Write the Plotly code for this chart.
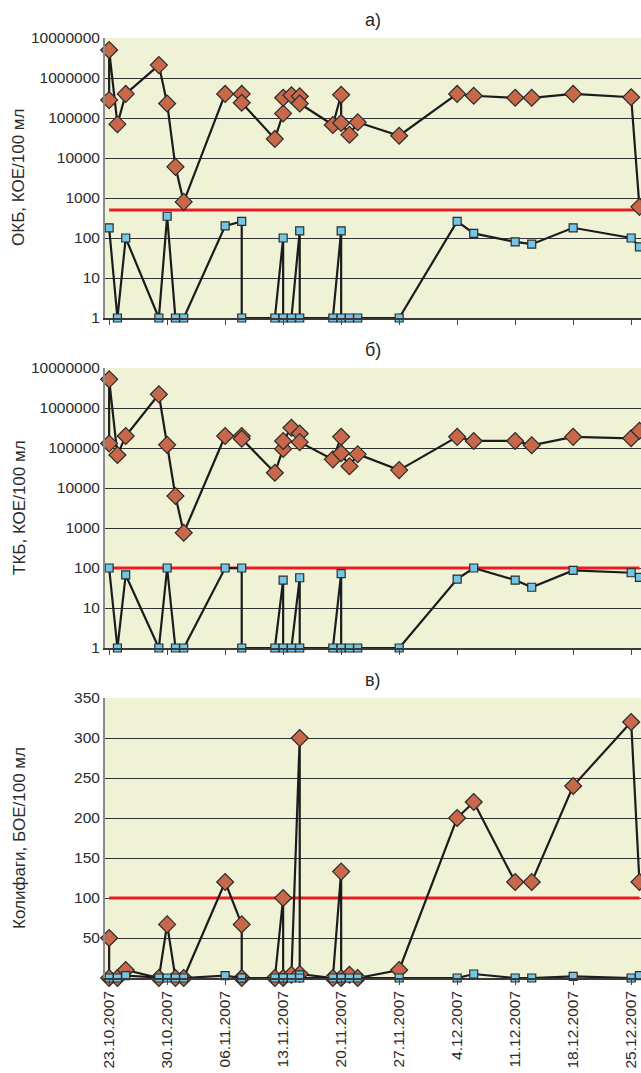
import plotly.graph_objects as go

# ---------------- data ----------------
dates_diamond = ["2007-10-23", "2007-10-23", "2007-10-24", "2007-10-25", "2007-10-29", "2007-10-30",
                 "2007-10-31", "2007-11-01", "2007-11-06", "2007-11-08", "2007-11-08", "2007-11-12",
                 "2007-11-13", "2007-11-13", "2007-11-14", "2007-11-15", "2007-11-15", "2007-11-19",
                 "2007-11-20", "2007-11-20", "2007-11-21", "2007-11-22", "2007-11-27", "2007-12-04",
                 "2007-12-06", "2007-12-11", "2007-12-13", "2007-12-18", "2007-12-25", "2007-12-26"]
dates_square = ["2007-10-23", "2007-10-24", "2007-10-25", "2007-10-29", "2007-10-30", "2007-10-31",
                "2007-11-01", "2007-11-06", "2007-11-08", "2007-11-08", "2007-11-12", "2007-11-13",
                "2007-11-13", "2007-11-14", "2007-11-15", "2007-11-15", "2007-11-19", "2007-11-20",
                "2007-11-20", "2007-11-21", "2007-11-22", "2007-11-27", "2007-12-04", "2007-12-06",
                "2007-12-11", "2007-12-13", "2007-12-18", "2007-12-25", "2007-12-26"]

okb_diamond = [280000, 5000000, 70000, 400000, 2100000, 230000, 6000, 800, 400000, 400000, 240000,
               30000, 130000, 320000, 370000, 350000, 230000, 67000, 380000, 75000, 38000, 78000,
               36000, 400000, 360000, 320000, 320000, 400000, 330000, 600]
okb_square = [180, 1, 100, 1, 350, 1, 1, 200, 260, 1, 1, 100, 1, 1, 150, 1, 1, 150, 1, 1, 1, 1,
              260, 130, 80, 70, 180, 100, 60]

tkb_diamond = [130000, 5200000, 67000, 200000, 2200000, 120000, 6300, 760, 200000, 200000, 170000,
               24000, 95000, 150000, 320000, 230000, 140000, 52000, 190000, 74000, 35000, 70000,
               28000, 190000, 150000, 150000, 117000, 190000, 175000, 270000]
tkb_square = [100, 1, 67, 1, 100, 1, 1, 100, 100, 1, 1, 50, 1, 1, 57, 1, 1, 72, 1, 1, 1, 1,
              53, 100, 50, 33, 87, 76, 58]

coli_diamond = [50, 0, 0, 10, 0, 67, 0, 0, 120, 67, 0, 0, 100, 0, 4, 300, 5, 0, 133, 0, 4, 0,
                10, 200, 220, 120, 120, 240, 320, 120]
coli_square = [0, 0, 3, 0, 0, 0, 0, 3, 0, 0, 0, 0, 0, 0, 4, 0, 0, 0, 0, 0, 0, 0, 0, 5, 0, 0, 2, 0, 3]

norm_values = [500, 100, 100]
norm_dates = ["2007-10-23", "2007-12-26"]

panel_titles = ["а)", "б)", "в)"]
y_titles = ["ОКБ, КОЕ/100 мл", "ТКБ, КОЕ/100 мл", "Колифаги, БОЕ/100 мл"]

log_tickvals = [1, 10, 100, 1000, 10000, 100000, 1000000, 10000000]
log_ticktext = ["1", "10", "100", "1000", "10000", "100000", "1000000", "10000000"]
lin_tickvals = [50, 100, 150, 200, 250, 300, 350]

x_tickvals = ["2007-10-23", "2007-10-30", "2007-11-06", "2007-11-13", "2007-11-20",
              "2007-11-27", "2007-12-04", "2007-12-11", "2007-12-18", "2007-12-25"]
x_ticktext = ["23.10.2007", "30.10.2007", "06.11.2007", "13.11.2007", "20.11.2007",
              "27.11.2007", "4.12.2007", "11.12.2007", "18.12.2007", "25.12.2007"]

# ---------------- styles ----------------
W, H = 641, 1073
FONT = "Liberation Sans, Arial, sans-serif"
TXT = "#2a2a2a"
BG = "#F0F2D6"
DIAMOND = "#C8684A"
SQUARE = "#74C6E6"
LINE = "#1c1c1c"
RED = "#EC1C24"
GRID = "#333333"

left = 105 / W
panels = [(38, 318), (368, 648), (698, 978)]  # top, bottom in px


def dom(top, bot):
    return [1 - bot / H, 1 - top / H]


fig = go.Figure()

series = [
    (okb_diamond, okb_square, norm_values[0]),
    (tkb_diamond, tkb_square, norm_values[1]),
    (coli_diamond, coli_square, norm_values[2]),
]

for i, (dia, sq, nv) in enumerate(series):
    xa = "x" if i == 0 else f"x{i + 1}"
    ya = "y" if i == 0 else f"y{i + 1}"
    fig.add_trace(go.Scatter(x=norm_dates, y=[nv, nv], mode="lines", xaxis=xa, yaxis=ya,
                             line=dict(color=RED, width=3), showlegend=False, hoverinfo="skip"))
    fig.add_trace(go.Scatter(x=dates_diamond, y=dia, mode="lines+markers", xaxis=xa, yaxis=ya,
                             line=dict(color=LINE, width=2.2),
                             marker=dict(symbol="diamond", size=13, color=DIAMOND,
                                         line=dict(color="#2b2b2b", width=1.2)),
                             cliponaxis=False, showlegend=False))
    fig.add_trace(go.Scatter(x=dates_square, y=sq, mode="lines+markers", xaxis=xa, yaxis=ya,
                             line=dict(color=LINE, width=2.2),
                             marker=dict(symbol="square", size=8, color=SQUARE,
                                         line=dict(color="#2b2b2b", width=1.2)),
                             cliponaxis=False, showlegend=False))

layout = dict(
    width=W, height=H, autosize=False,
    margin=dict(l=0, r=0, t=0, b=0, pad=0, autoexpand=False),
    paper_bgcolor="white", plot_bgcolor=BG,
    font=dict(family=FONT, color=TXT, size=15.5),
    showlegend=False,
)

xrange = ["2007-10-22 12:00", "2007-12-26 04:30"]
for i, (top, bot) in enumerate(panels):
    xk = "xaxis" if i == 0 else f"xaxis{i + 1}"
    yk = "yaxis" if i == 0 else f"yaxis{i + 1}"
    ya = "y" if i == 0 else f"y{i + 1}"
    xa = "x" if i == 0 else f"x{i + 1}"
    layout[xk] = dict(
        domain=[left, 1], anchor=ya, type="date", range=xrange,
        tickvals=x_tickvals, ticktext=x_ticktext, showticklabels=(i == 2),
        tickangle=-90, tickfont=dict(size=15.5, color=TXT),
        ticks="outside", ticklen=5, tickcolor="#444", tickwidth=1,
        showgrid=False, zeroline=False, showline=True, linecolor="#3a3a3a", linewidth=1.5,
        automargin=False,
    )
    if i > 0:
        layout[xk]["matches"] = "x"
    common_y = dict(
        domain=dom(top, bot), anchor=xa,
        showgrid=True, gridcolor=GRID, gridwidth=1.2,
        showline=True, linecolor="#8a8a8a", linewidth=2, ticks="", zeroline=False,
        tickfont=dict(size=15.5, color=TXT), automargin=False,
    )
    if i < 2:
        layout[yk] = dict(common_y, type="log", range=[0, 7],
                          tickvals=log_tickvals, ticktext=log_ticktext)
    else:
        layout[yk] = dict(common_y, type="linear", range=[0, 350], tickvals=lin_tickvals)

annotations = []
for i, (top, bot) in enumerate(panels):
    annotations.append(dict(text=panel_titles[i], xref="paper", yref="paper",
                            x=373 / W, y=1 - (top - 18) / H, xanchor="center", yanchor="middle",
                            showarrow=False, font=dict(size=18, color=TXT, family=FONT)))
    annotations.append(dict(text=y_titles[i], xref="paper", yref="paper",
                            x=19 / W, y=1 - ((top + bot) / 2) / H, xanchor="center", yanchor="middle",
                            textangle=-90, showarrow=False,
                            font=dict(size=17, color=TXT, family=FONT)))
layout["annotations"] = annotations

fig.update_layout(**layout)
fig.write_html("out.html", config={"displayModeBar": False},
               post_script="document.body.style.margin='0';")
